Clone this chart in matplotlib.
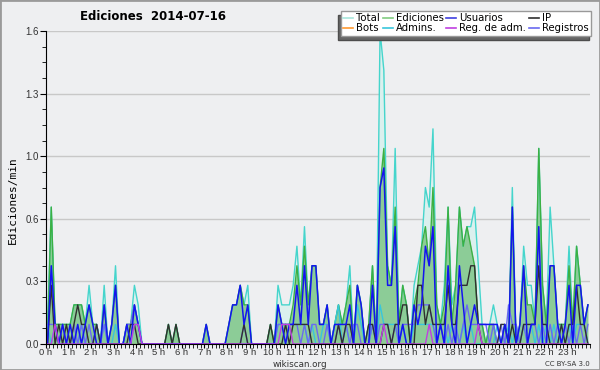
import numpy as np
import matplotlib.pyplot as plt
from matplotlib.lines import Line2D
from matplotlib.patches import Rectangle
from matplotlib.ticker import MultipleLocator

# edits per 10-minute slot (144 slots, one line = 4 hours)
total = [1, 7, 1, 1, 1, 1,  1, 2, 2, 2, 1, 3,  1, 1, 0, 3, 0, 1,  4, 0, 0, 1, 1, 3,
         2, 0, 0, 0, 0, 0,  0, 0, 1, 0, 1, 0,  0, 0, 0, 0, 0, 0,  1, 0, 0, 0, 0, 0,
         1, 2, 2, 3, 2, 3,  0, 0, 0, 0, 0, 1,  0, 3, 2, 2, 2, 3,  5, 2, 6, 2, 4, 4,
         1, 1, 2, 0, 1, 2,  1, 2, 4, 0, 3, 2,  0, 1, 4, 0, 16, 14,  4, 3, 10, 1, 3, 2,
         0, 3, 4, 5, 8, 7,  11, 2, 1, 3, 7, 2,  3, 7, 5, 6, 6, 7,  4, 1, 0, 1, 2, 1,
         0, 1, 0, 8, 0, 1,  5, 3, 3, 1, 10, 3,  1, 7, 4, 1, 1, 1,  5, 1, 5, 3, 1, 2]
ediciones = [0, 7, 1, 1, 1, 1,  1, 2, 2, 2, 1, 2,  1, 1, 0, 2, 0, 1,  3, 0, 0, 1, 1, 2,
             1, 0, 0, 0, 0, 0,  0, 0, 1, 0, 1, 0,  0, 0, 0, 0, 0, 0,  1, 0, 0, 0, 0, 0,
             1, 2, 2, 3, 2, 2,  0, 0, 0, 0, 0, 1,  0, 2, 1, 1, 1, 2,  4, 2, 5, 2, 4, 4,
             1, 1, 2, 0, 1, 2,  1, 2, 3, 0, 3, 2,  0, 1, 4, 0, 8, 10,  4, 3, 7, 1, 3, 2,
             0, 2, 3, 5, 6, 4,  8, 2, 1, 2, 7, 1,  3, 7, 5, 6, 5, 4,  1, 1, 0, 1, 1, 0,
             0, 1, 0, 7, 0, 1,  4, 2, 2, 1, 10, 3,  1, 4, 4, 1, 1, 1,  4, 1, 5, 3, 1, 2]
usuarios = [0, 4, 1, 0, 1, 0,  1, 0, 1, 0, 1, 2,  1, 0, 0, 2, 0, 1,  3, 0, 0, 1, 0, 2,
            1, 0, 0, 0, 0, 0,  0, 0, 0, 0, 0, 0,  0, 0, 0, 0, 0, 0,  1, 0, 0, 0, 0, 0,
            1, 2, 2, 3, 1, 2,  0, 0, 0, 0, 0, 0,  0, 2, 1, 0, 1, 1,  3, 1, 4, 1, 4, 4,
            1, 1, 2, 0, 1, 1,  1, 1, 2, 0, 3, 2,  0, 0, 3, 0, 8, 9,  3, 3, 6, 0, 1, 0,
            0, 2, 1, 2, 5, 4,  6, 0, 1, 0, 4, 1,  0, 4, 2, 0, 1, 2,  1, 1, 1, 1, 1, 1,
            0, 1, 0, 7, 0, 1,  4, 0, 1, 1, 6, 0,  0, 4, 4, 1, 0, 1,  3, 0, 3, 3, 1, 2]
ip = [0, 3, 0, 1, 0, 1,  0, 1, 2, 1, 1, 0,  0, 1, 0, 0, 0, 0,  0, 0, 0, 0, 1, 1,
      0, 0, 0, 0, 0, 0,  0, 0, 1, 0, 1, 0,  0, 0, 0, 0, 0, 0,  0, 0, 0, 0, 0, 0,
      0, 0, 0, 0, 1, 0,  0, 0, 0, 0, 0, 1,  0, 0, 0, 1, 0, 1,  1, 1, 1, 1, 0, 0,
      0, 0, 0, 0, 0, 1,  0, 1, 1, 0, 0, 0,  0, 1, 1, 0, 0, 1,  1, 0, 1, 1, 2, 2,
      0, 0, 3, 3, 1, 2,  1, 1, 1, 1, 3, 1,  1, 3, 3, 3, 4, 4,  1, 0, 0, 0, 0, 0,
      1, 1, 0, 1, 0, 0,  1, 1, 1, 1, 4, 1,  1, 0, 0, 0, 1, 0,  1, 1, 3, 1, 1, 0]
admins = [1, 0, 1, 0, 0, 0,  0, 0, 0, 1, 0, 0,  0, 1, 0, 1, 0, 0,  1, 0, 0, 0, 0, 1,
          1, 0, 0, 0, 0, 0,  0, 0, 0, 0, 0, 0,  0, 0, 0, 0, 0, 0,  0, 0, 0, 0, 0, 0,
          0, 0, 0, 0, 0, 0,  0, 0, 0, 0, 0, 0,  0, 1, 1, 1, 1, 1,  1, 1, 1, 0, 1, 0,
          0, 1, 1, 0, 1, 2,  0, 1, 0, 0, 2, 1,  0, 0, 1, 0, 2, 1,  1, 1, 1, 0, 1, 0,
          0, 1, 1, 1, 1, 1,  1, 0, 1, 1, 0, 1,  1, 0, 1, 0, 1, 0,  0, 0, 0, 0, 0, 1,
          0, 0, 1, 0, 1, 0,  1, 0, 1, 0, 1, 0,  1, 0, 1, 0, 1, 0,  1, 0, 1, 1, 1, 0]
registros = [1, 1, 1, 0, 1, 0,  0, 1, 0, 1, 0, 1,  0, 1, 0, 1, 0, 0,  0, 0, 0, 1, 1, 2,
             1, 0, 0, 0, 0, 0,  0, 0, 0, 0, 0, 0,  0, 0, 0, 0, 0, 0,  0, 0, 0, 0, 0, 0,
             0, 0, 0, 0, 1, 0,  0, 0, 0, 0, 0, 0,  0, 1, 1, 1, 1, 1,  1, 0, 1, 0, 1, 1,
             0, 0, 1, 0, 0, 1,  0, 1, 0, 1, 1, 0,  0, 0, 1, 0, 1, 1,  1, 0, 1, 0, 1, 1,
             1, 1, 2, 2, 2, 2,  1, 0, 1, 0, 1, 0,  1, 0, 1, 2, 1, 1,  1, 1, 1, 0, 1, 0,
             1, 0, 2, 1, 1, 0,  1, 0, 1, 1, 0, 1,  0, 1, 0, 1, 0, 1,  0, 1, 0, 1, 0, 1]
reg_adm = [0, 0, 1, 0, 0, 0,  0, 0, 0, 0, 0, 0,  0, 0, 0, 0, 0, 0,  0, 0, 0, 0, 0, 1,
           1, 0, 0, 0, 0, 0,  0, 0, 0, 0, 0, 0,  0, 0, 0, 0, 0, 0,  0, 0, 0, 0, 0, 0,
           0, 0, 0, 0, 0, 0,  0, 0, 0, 0, 0, 0,  0, 0, 1, 1, 1, 0,  0, 0, 0, 0, 0, 0,
           0, 0, 0, 0, 0, 0,  0, 0, 0, 0, 0, 0,  0, 0, 0, 0, 0, 1,  0, 0, 0, 0, 0, 0,
           0, 0, 0, 0, 0, 1,  0, 0, 0, 0, 0, 0,  0, 0, 0, 0, 0, 0,  1, 0, 0, 0, 0, 0,
           0, 0, 0, 0, 0, 0,  0, 0, 0, 0, 0, 0,  0, 0, 0, 0, 0, 0,  0, 0, 0, 0, 0, 0]
bots = [0] * 144

hour_labels = [f"{h} h" for h in range(24)]
ytick_vals = [0.0, 0.32, 0.64, 0.96, 1.28, 1.6]
ytick_labels = ["0.0", "0.3", "0.6", "1.0", "1.3", "1.6"]

BG = "#eeeff1"
colors = {
    "Total": "#45d5cc", "Ediciones": "#3cb043", "Usuarios": "#1414f0",
    "IP": "#303030", "Bots": "#ff9a30", "Admins.": "#38c6dc",
    "Reg. de adm.": "#c040e0", "Registros": "#6a6af0",
}


def per_min(a):
    # counts per 10 min -> edits per minute
    return np.asarray(a) / 10.0


# slot centres in hours
t = (np.arange(len(total)) + 0.5) / 6.0

fig = plt.figure(figsize=(6, 3.7), dpi=100, facecolor=BG)
ax = fig.add_axes([0.076, 0.0703, 0.907, 0.8457])
ax.set_facecolor(BG)

ax.fill_between(t, per_min(total), color="#dbf0ee", lw=0, zorder=1)
ax.plot(t, per_min(total), color=colors["Total"], lw=1, zorder=3)
ax.fill_between(t, per_min(ediciones), color="#4caf50", alpha=0.55, lw=0, zorder=2)
ax.plot(t, per_min(ediciones), color=colors["Ediciones"], lw=1, zorder=3)
ax.plot(t, per_min(bots), color=colors["Bots"], lw=1, zorder=1.5)
ax.plot(t, per_min(admins), color=colors["Admins."], lw=1, zorder=3)
ax.plot(t, per_min(registros), color=colors["Registros"], lw=1, zorder=3)
ax.plot(t, per_min(ip), color=colors["IP"], lw=1, zorder=3)
ax.plot(t, per_min(usuarios), color=colors["Usuarios"], lw=1.1, zorder=3)
ax.plot(t, per_min(reg_adm), color=colors["Reg. de adm."], lw=1, zorder=3)

ax.set_xlim(0, 24)
ax.set_ylim(0, 1.6)
ax.set_yticks(ytick_vals, ytick_labels)
ax.yaxis.set_minor_locator(MultipleLocator(0.08))
ax.set_xticks(range(24), hour_labels)
ax.xaxis.set_minor_locator(MultipleLocator(1 / 6))
ax.yaxis.grid(True, color="#c8c8c8", lw=1)
ax.set_axisbelow(True)
for s in ["top", "right"]:
    ax.spines[s].set_visible(False)
for s in ["left", "bottom"]:
    ax.spines[s].set_color("black")
    ax.spines[s].set_zorder(5)
ax.tick_params(axis="both", which="major", direction="out", length=4,
               labelsize=7, labelcolor="#333333", pad=1)
ax.tick_params(axis="both", which="minor", direction="out", length=3)
ax.tick_params(axis="x", which="major", length=3, pad=0, labelsize=6.8)
for lab in ax.get_xticklabels() + ax.get_yticklabels():
    lab.set_family("Liberation Sans")

fig.text(0.255, 0.955, "Ediciones  2014-07-16", fontsize=8.5, fontweight="bold",
         ha="center", va="center")
fig.text(0.022, 0.46, "Ediciones/min", rotation=90, fontsize=8,
         family="DejaVu Sans Mono", ha="center", va="center")
fig.text(0.5, 0.014, "wikiscan.org", fontsize=6.3, color="#333333",
         ha="center", va="center")
fig.text(0.983, 0.016, "CC BY-SA 3.0", fontsize=5, color="#333333",
         ha="right", va="center")

legend_order = ["Total", "Bots", "Ediciones", "Admins.", "Usuarios",
                "Reg. de adm.", "IP", "Registros"]
swatch = dict(colors, Total="#a8e6dc", Ediciones="#80cc80", Usuarios="#4040e0")
handles = [Line2D([], [], color=swatch[k], lw=1.2) for k in legend_order]
leg = fig.legend(handles, legend_order, ncol=4, loc="upper right",
                 bbox_to_anchor=(0.994, 0.985), fontsize=7.3, handlelength=1.0,
                 handletextpad=0.3, columnspacing=0.25, labelspacing=0.0,
                 borderpad=0.25, fancybox=False, framealpha=1,
                 edgecolor="#999999", facecolor="white",
                 shadow={"ox": -2, "oy": -3, "facecolor": "#666666", "alpha": 1})
leg.get_frame().set_linewidth(1)

fig.add_artist(Rectangle((0, 0), 1, 1, transform=fig.transFigure, fill=False,
                         edgecolor="#9a9a9a", lw=2))

fig.savefig("out.png", dpi=100, facecolor=BG)
